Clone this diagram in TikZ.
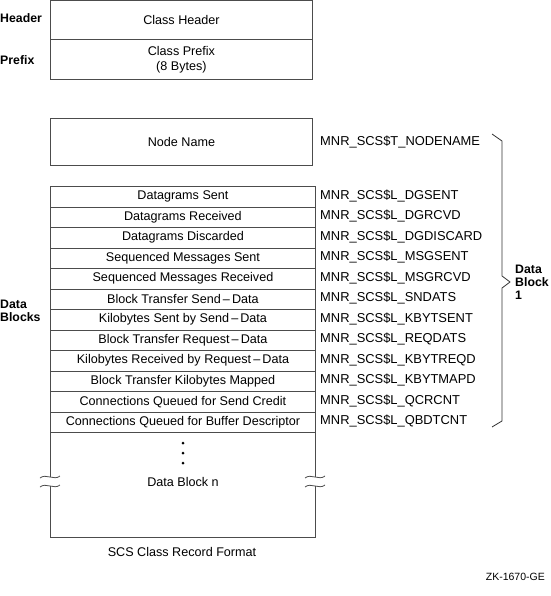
\documentclass[tikz,border=0pt]{standalone}
\usepackage{fontspec}
\setmainfont{Liberation Sans}
\begin{document}
\begin{tikzpicture}[x=1pt,y=-1pt,
  fld/.style={draw=black!70, line width=0.9pt, inner sep=0pt, anchor=north west, font=\fontsize{12.6}{14.5}\selectfont, align=center},
  sym/.style={anchor=west, inner sep=0pt, font=\fontsize{12.9}{14}\selectfont},
  lbl/.style={anchor=west, inner sep=0pt, font=\fontsize{12.3}{14}\bfseries\selectfont, align=left},
  brk/.style={draw=black!70, line width=0.8pt}]
\useasboundingbox (0,0) rectangle (550,596);
% header / prefix
\node[fld, minimum width=262pt, minimum height=39pt] (hdr) at (50,0.5) {Class Header};
\node[fld, minimum width=262pt, minimum height=40pt] (pre) at (50,39.5) {Class Prefix\\(8 Bytes)};
\node[lbl] (lh) at (0,18) {Header};
\node[lbl] (lp) at (0,60) {Prefix};
% node name
\node[fld, minimum width=262pt, minimum height=47pt] (nn) at (50,118) {Node Name};
\node[sym] (snn) at (320,142) {MNR\_SCS\$T\_NODENAME};
% rows
\foreach \i/\t/\s in {0/Datagrams Sent/DGSENT,1/Datagrams Received/DGRCVD,2/Datagrams Discarded/DGDISCARD,3/Sequenced Messages Sent/MSGSENT,4/Sequenced Messages Received/MSGRCVD,5/Block Transfer Send{\,}{\textendash}{\,}Data/SNDATS,6/Kilobytes Sent by Send{\,}{\textendash}{\,}Data/KBYTSENT,7/Block Transfer Request{\,}{\textendash}{\,}Data/REQDATS,8/Kilobytes Received by Request{\,}{\textendash}{\,}Data/KBYTREQD,9/Block Transfer Kilobytes Mapped/KBYTMAPD,10/Connections Queued for Send Credit/QCRCNT,11/Connections Queued for Buffer Descriptor/QBDTCNT}{
  \node[fld, minimum width=265pt, minimum height=20.5pt] (r\i) at (50,186+20.5*\i) {\t};
  \node[sym] (s\i) at (320,196+20.5*\i) {MNR\_SCS\$L\_\s};
}
% data block n
\node[fld, minimum width=265pt, minimum height=105pt] (dbn) at (50,432) {};
\node[inner sep=0pt, font=\fontsize{12.6}{14}\selectfont] (dbnt) at (183,482) {Data Block n};
\foreach \k in {0,1,2}{\fill (183,443+10*\k) circle (1.5pt);}
% break marks
\foreach \xx in {50,315}{
  \fill[white] (\xx-3,477) rectangle (\xx+3,486);
  \foreach \yy in {477,486}{
    \draw[brk] (\xx-10,\yy+1) .. controls (\xx-4,\yy-4) and (\xx+4,\yy+4) .. (\xx+10,\yy-1);
  }
}
\node[lbl] (ldb) at (0,311) {Data\\[-1pt]Blocks};
% brace
\coordinate (b1) at (492,134);
\coordinate (b2) at (502,141);
\coordinate (b3) at (502,276);
\coordinate (bt) at (510,282);
\coordinate (b4) at (502,288);
\coordinate (b5) at (502,421);
\coordinate (b6) at (492,427);
\draw[black!80, line width=0.8pt, line join=round] (b1) -- (b2) -- (b3) -- (bt) -- (b4) -- (b5) -- (b6);
\node[lbl] (ldb1) at (515,282) {Data\\[-1pt]Block\\[-1pt]1};
% captions
\node[inner sep=0pt, font=\fontsize{12.6}{14}\selectfont] (cap) at (182,552) {SCS Class Record Format};
\node[anchor=east, inner sep=0pt, font=\fontsize{10.5}{12}\selectfont] (zk) at (545,577) {ZK-1670-GE};
\end{tikzpicture}
\end{document}
